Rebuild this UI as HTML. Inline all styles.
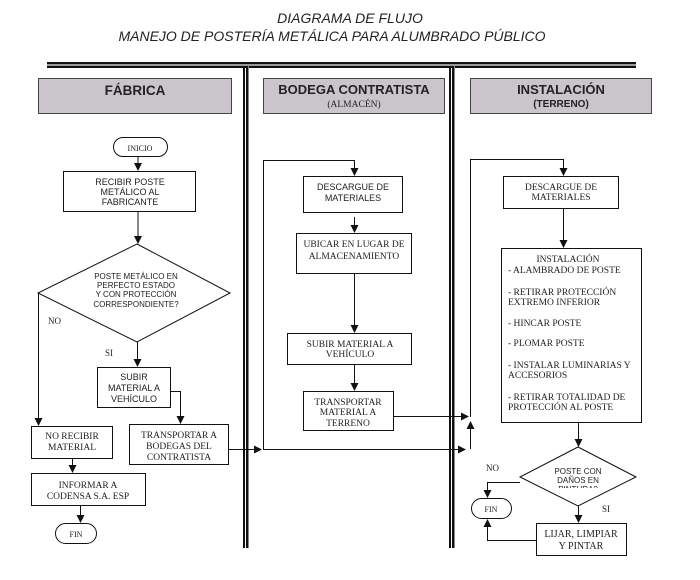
<!DOCTYPE html>
<html><head><meta charset="utf-8"><style>
html,body{margin:0;padding:0;background:#fff;}
svg{display:block;}
.s{font-family:"Liberation Sans",Arial,sans-serif;fill:#222;}
.r{font-family:"Liberation Serif","Times New Roman",serif;fill:#222;}
</style></head><body>
<svg width="700" height="580" viewBox="0 0 700 580" xmlns="http://www.w3.org/2000/svg">
<rect width="700" height="580" fill="#fff"/>
<defs><clipPath id="dc"><rect x="515" y="440" width="130" height="48"/></clipPath></defs>
<!-- title -->
<text class="s" x="350" y="23" font-size="14" font-style="italic" text-anchor="middle">DIAGRAMA DE FLUJO</text>
<text class="s" x="332" y="41" font-size="14" font-style="italic" text-anchor="middle">MANEJO DE POSTERÍA METÁLICA PARA ALUMBRADO PÚBLICO</text>
<!-- horizontal bar -->
<rect x="47" y="62" width="589" height="2" fill="#111"/>
<rect x="47" y="64" width="589" height="2" fill="#999"/>
<rect x="47" y="66" width="589" height="2" fill="#111"/>
<!-- dividers -->
<g>
<rect x="243" y="66" width="2" height="482" fill="#111"/>
<rect x="246" y="66" width="2" height="482" fill="#111"/>
<rect x="248" y="66" width="1" height="482" fill="#888"/>
<rect x="449" y="66" width="2" height="482" fill="#111"/>
<rect x="452" y="66" width="2" height="482" fill="#111"/>
<rect x="454" y="66" width="1" height="482" fill="#888"/>
</g>
<!-- headers -->
<rect x="38.5" y="78.5" width="193" height="35" fill="#c9c5ca" stroke="#444"/>
<text class="s" x="135" y="95" font-size="13.5" font-weight="bold" text-anchor="middle">FÁBRICA</text>
<rect x="263.5" y="78.5" width="181" height="35" fill="#c9c5ca" stroke="#444"/>
<text class="s" x="354" y="94" font-size="13" font-weight="bold" text-anchor="middle">BODEGA CONTRATISTA</text>
<text class="r" x="354" y="107" font-size="9.5" text-anchor="middle">(ALMACÉN)</text>
<rect x="470.5" y="78.5" width="181" height="35" fill="#c9c5ca" stroke="#444"/>
<text class="s" x="561" y="94" font-size="13" font-weight="bold" text-anchor="middle">INSTALACIÓN</text>
<text class="s" x="561" y="107" font-size="10" font-weight="bold" text-anchor="middle">(TERRENO)</text>

<g stroke="#111" stroke-width="1" fill="none">
<!-- lane 1 -->
<rect x="113.5" y="137.5" width="54" height="19" rx="9.5"/>
<line x1="138" y1="157" x2="138" y2="163"/>
<rect x="63.5" y="171.5" width="132" height="40"/>
<line x1="138" y1="212" x2="138" y2="236"/>
<polygon points="137,244 230,293 137,342 38,293"/>
<line x1="38.5" y1="293" x2="38.5" y2="418"/>
<line x1="137.5" y1="342" x2="137.5" y2="359"/>
<rect x="97.5" y="367.5" width="73" height="40"/>
<polyline points="171,391.5 180.5,391.5 180.5,416"/>
<rect x="129.5" y="424.5" width="99" height="40"/>
<line x1="229" y1="449.5" x2="254" y2="449.5"/>
<rect x="31.5" y="426.5" width="81" height="32"/>
<line x1="72.5" y1="459" x2="72.5" y2="465"/>
<rect x="31.5" y="473.5" width="114" height="32"/>
<line x1="80.5" y1="506" x2="80.5" y2="515"/>
<rect x="55.5" y="523.5" width="41" height="20" rx="10"/>
<!-- lane 2 -->
<polyline points="263.5,449 263.5,160.5 354.5,160.5 354.5,168"/>
<rect x="303.5" y="176.5" width="99" height="36"/>
<line x1="354.5" y1="217" x2="354.5" y2="225"/>
<rect x="296.5" y="233.5" width="115" height="40"/>
<line x1="354.5" y1="274" x2="354.5" y2="325"/>
<rect x="287.5" y="333.5" width="124" height="31"/>
<line x1="354.5" y1="365" x2="354.5" y2="383"/>
<rect x="303.5" y="391.5" width="90" height="39"/>
<line x1="394" y1="416.5" x2="461" y2="416.5"/>
<line x1="263" y1="449.5" x2="458" y2="449.5"/>
<line x1="470.5" y1="449" x2="470.5" y2="429"/>
<line x1="470.5" y1="159.5" x2="470.5" y2="417"/>
<!-- lane 3 -->
<polyline points="470,159.5 563.5,159.5 563.5,168"/>
<rect x="503.5" y="176.5" width="115" height="32"/>
<line x1="563.5" y1="209" x2="563.5" y2="240"/>
<rect x="501.5" y="248.5" width="140" height="174"/>
<line x1="578.5" y1="423" x2="578.5" y2="439"/>
<polygon points="578,447 636,477 578,506 520,477"/>
<polyline points="520,482.5 487.5,482.5 487.5,490"/>
<rect x="471.5" y="498.5" width="40" height="20" rx="10"/>
<line x1="578.5" y1="506" x2="578.5" y2="515"/>
<rect x="536.5" y="523.5" width="90" height="32"/>
<polyline points="536,540.5 487.5,540.5 487.5,527"/>
</g>
<!-- arrowheads -->
<g fill="#111">
<polygon points="134,163 142,163 138,171"/>
<polygon points="134,236 142,236 138,244"/>
<polygon points="34.5,418 42.5,418 38.5,426"/>
<polygon points="133.5,359 141.5,359 137.5,367"/>
<polygon points="176.5,416 184.5,416 180.5,424"/>
<polygon points="254,445.5 254,453.5 262,449.5"/>
<polygon points="68.5,465 76.5,465 72.5,473"/>
<polygon points="76.5,515 84.5,515 80.5,523"/>
<polygon points="350.5,168 358.5,168 354.5,176"/>
<polygon points="350.5,225 358.5,225 354.5,233"/>
<polygon points="350.5,325 358.5,325 354.5,333"/>
<polygon points="350.5,383 358.5,383 354.5,391"/>
<polygon points="461,412.5 461,420.5 469,416.5"/>
<polygon points="458,445.5 458,453.5 466,449.5"/>
<polygon points="466.5,429 474.5,429 470.5,421"/>
<polygon points="559.5,168 567.5,168 563.5,176"/>
<polygon points="559.5,240 567.5,240 563.5,248"/>
<polygon points="574.5,439 582.5,439 578.5,447"/>
<polygon points="483.5,490 491.5,490 487.5,498"/>
<polygon points="574.5,515 582.5,515 578.5,523"/>
<polygon points="483.5,527 491.5,527 487.5,519"/>
</g>
<!-- lane 1 text -->
<text class="r" x="140" y="151" font-size="8" text-anchor="middle">INICIO</text>
<g class="s" font-size="9" text-anchor="middle">
<text x="130" y="185">RECIBIR POSTE</text>
<text x="130" y="195">METÁLICO AL</text>
<text x="130" y="205">FABRICANTE</text>
</g>
<g class="s" font-size="8" text-anchor="middle">
<text x="136" y="279">POSTE METÁLICO EN</text>
<text x="136" y="288">PERFECTO ESTADO</text>
<text x="136" y="297">Y CON PROTECCIÓN</text>
<text x="136" y="307">CORRESPONDIENTE?</text>
</g>
<text class="r" x="48" y="324" font-size="9">NO</text>
<text class="r" x="105" y="356" font-size="9">SI</text>
<g class="s" font-size="9" text-anchor="middle">
<text x="134" y="380">SUBIR</text>
<text x="134" y="391">MATERIAL A</text>
<text x="134" y="402">VEHÍCULO</text>
</g>
<g class="r" font-size="9.5" text-anchor="middle">
<text x="179" y="438">TRANSPORTAR A</text>
<text x="179" y="449">BODEGAS DEL</text>
<text x="179" y="460">CONTRATISTA</text>
<text x="72" y="439">NO RECIBIR</text>
<text x="72" y="450">MATERIAL</text>
<text x="88" y="488">INFORMAR A</text>
<text x="88" y="499">CODENSA S.A. ESP</text>
</g>
<text class="r" x="76" y="537" font-size="8" text-anchor="middle">FIN</text>
<!-- lane 2 text -->
<g class="s" font-size="9" text-anchor="middle">
<text x="353" y="190">DESCARGUE DE</text>
<text x="353" y="201">MATERIALES</text>
</g>
<g class="r" font-size="9.5" text-anchor="middle">
<text x="354" y="247">UBICAR EN LUGAR DE</text>
<text x="354" y="259">ALMACENAMIENTO</text>
<text x="350" y="347">SUBIR MATERIAL A</text>
<text x="350" y="357">VEHÍCULO</text>
<text x="348" y="405">TRANSPORTAR</text>
<text x="348" y="415">MATERIAL A</text>
<text x="348" y="426">TERRENO</text>
</g>
<!-- lane 3 text -->
<g class="r" font-size="9.5" text-anchor="middle">
<text x="561" y="190">DESCARGUE DE</text>
<text x="561" y="200">MATERIALES</text>
<text x="568" y="262">INSTALACIÓN</text>
</g>
<g class="r" font-size="9.5">
<text x="508" y="273">- ALAMBRADO DE POSTE</text>
<text x="508" y="295">- RETIRAR PROTECCIÓN</text>
<text x="508" y="305">EXTREMO INFERIOR</text>
<text x="508" y="326">- HINCAR POSTE</text>
<text x="508" y="346">- PLOMAR POSTE</text>
<text x="508" y="368">- INSTALAR LUMINARIAS Y</text>
<text x="508" y="378">ACCESORIOS</text>
<text x="508" y="400">- RETIRAR TOTALIDAD DE</text>
<text x="508" y="410">PROTECCIÓN AL POSTE</text>
</g>
<g class="s" font-size="8" text-anchor="middle" clip-path="url(#dc)">
<text x="578" y="474">POSTE CON</text>
<text x="578" y="483">DAÑOS EN</text>
<text x="578" y="492">PINTURA?</text>
</g>
<text class="r" x="486" y="471" font-size="9">NO</text>
<text class="r" x="602" y="512" font-size="9">SI</text>
<text class="r" x="491" y="512" font-size="8" text-anchor="middle">FIN</text>
<g class="r" font-size="10" text-anchor="middle">
<text x="581" y="537">LIJAR, LIMPIAR</text>
<text x="581" y="549">Y PINTAR</text>
</g>
</svg>
</body></html>
